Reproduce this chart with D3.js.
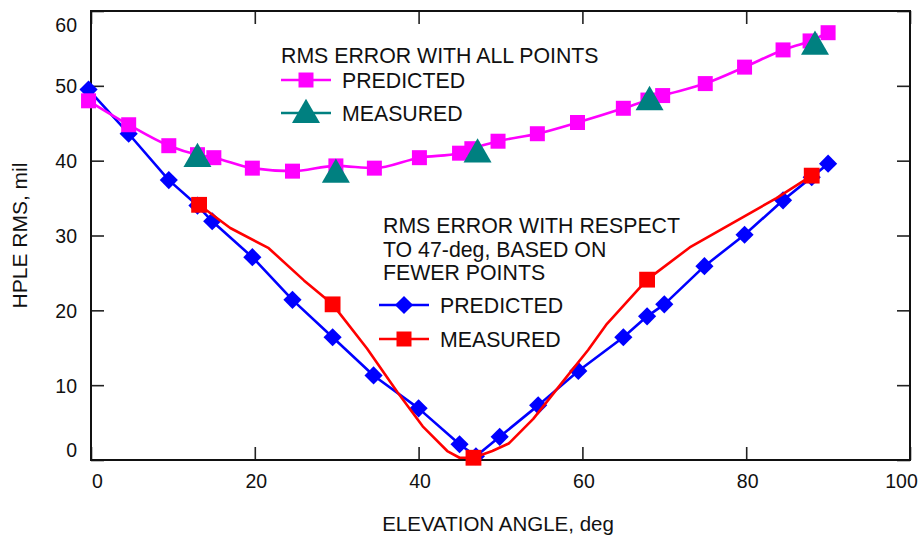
<!DOCTYPE html>
<html>
<head>
<meta charset="utf-8">
<script src="https://cdn.jsdelivr.net/npm/d3@7"></script>
<style>
  body { margin: 0; background: #fff; }
  svg text { font-family: Arial, "Liberation Sans", Helvetica, sans-serif; fill: #111; }
</style>
</head>
<body>
<svg id="chart" width="922" height="538"></svg>
<script>
// tick values
var xTicks = [0, 20, 40, 60, 80, 100];
var yTicks = [0, 10, 20, 30, 40, 50, 60];

// RMS error with all points
var allPredX = [-0.3, 4.6, 9.5, 13, 15, 19.7, 24.6, 29.9, 34.6, 40.1, 45, 46.5, 49.7, 54.5, 59.4, 65, 68, 69.8, 75, 79.8, 84.5, 87.8, 90];
var allPredY = [48, 44.8, 42, 40.8, 40.4, 39, 38.6, 39.3, 39, 40.4, 41, 41.6, 42.6, 43.6, 45.1, 47, 48.1, 48.7, 50.3, 52.5, 54.8, 56, 57.1];
var allMeasX = [13, 29.9, 47.2, 68.2, 88.4];
var allMeasY = [40.5, 38.4, 41.1, 48.1, 55.5];

// RMS error with respect to 47-deg
var refPredX = [-0.3, 4.6, 9.5, 13, 14.8, 19.7, 24.6, 29.5, 34.5, 40, 45, 47, 49.9, 54.6, 59.5, 65, 67.9, 70, 74.9, 79.8, 84.5, 88, 90];
var refPredY = [49.5, 43.6, 37.4, 34, 31.9, 27.1, 21.4, 16.4, 11.3, 6.9, 2.1, 0.5, 3.1, 7.3, 11.9, 16.4, 19.2, 20.8, 25.9, 30.1, 34.7, 37.8, 39.6];
var refMeasX = [13.2, 29.5, 46.7, 67.9, 88];
var refMeasY = [34.1, 20.8, 0.3, 24.1, 38];
// measured curve (drawn without markers between the measured points)
var refCurveX = [13.2, 17, 21.7, 26, 29.5, 33.7, 37.4, 40.5, 43.5, 45, 46.7, 49, 51, 54, 58, 60.7, 63, 67.9, 73.1, 83.7, 88];
var refCurveY = [34.1, 31, 28.3, 24, 20.8, 14.9, 9.1, 4.5, 1.2, 0.3, 0.3, 1.2, 2.2, 5.5, 11, 14.7, 18.2, 24.1, 28.4, 35, 38];

var MAGENTA = "#ff00ff", TEAL = "#008080", BLUE = "#0000ff", RED = "#ff0000";

var svg = d3.select("#chart"),
    margin = {top: 11, right: 12, bottom: 78, left: 91},
    width = +svg.attr("width") - margin.left - margin.right,
    height = +svg.attr("height") - margin.top - margin.bottom,
    g = svg.append("g").attr("transform", "translate(" + margin.left + "," + margin.top + ")");

var x = d3.scaleLinear().domain([0, 100]).range([0, width]);
var y = d3.scaleLinear().domain([0, 60]).range([height, 0]);

function zip(xs, ys) { return xs.map(function(v, i) { return [v, ys[i]]; }); }

// axes with inward ticks
var xAx = g.append("g").attr("transform", "translate(0," + height + ")")
  .call(d3.axisBottom(x).tickValues(xTicks).tickSize(-13).tickPadding(14));
var yAx = g.append("g")
  .call(d3.axisLeft(y).tickValues(yTicks).tickSize(-13).tickPadding(14));
g.append("g").call(d3.axisTop(x).tickValues(xTicks).tickSize(-13).tickFormat(""));
g.append("g").attr("transform", "translate(" + width + ",0)")
  .call(d3.axisRight(y).tickValues(yTicks).tickSize(-13).tickFormat(""));

g.selectAll(".domain").remove();
g.selectAll(".tick line").attr("stroke", "#222").attr("stroke-width", 1.6);
xAx.selectAll("text").attr("font-size", 19.5).attr("fill", "#111")
  .attr("dx", function(d) { return d === 0 ? 6 : (d === 100 ? -9 : 1); });
yAx.selectAll("text").attr("font-size", 19.5).attr("fill", "#111")
  .attr("dy", function(d) { return d === 60 ? "1.05em" : (d === 0 ? "-0.2em" : "0.36em"); });

g.append("rect").attr("width", width).attr("height", height)
  .attr("fill", "none").attr("stroke", "#111").attr("stroke-width", 2);

// axis titles
svg.append("text").attr("x", 498).attr("y", 531)
  .attr("text-anchor", "middle").attr("font-size", 20.5).text("ELEVATION ANGLE, deg");
svg.append("text").attr("transform", "translate(27," + (margin.top + height / 2) + ") rotate(-90)")
  .attr("text-anchor", "middle").attr("font-size", 21).text("HPLE RMS, mil");

var line = d3.line().x(function(d) { return x(d[0]); }).y(function(d) { return y(d[1]); });
var smooth = d3.line().curve(d3.curveMonotoneX).x(function(d) { return x(d[0]); }).y(function(d) { return y(d[1]); });

var sq = d3.symbol().type(d3.symbolSquare).size(225);
var rsq = d3.symbol().type(d3.symbolSquare).size(250);
var dia = d3.symbol().type(d3.symbolSquare).size(165);
var tri = d3.symbol().type(d3.symbolTriangle).size(340);

function at(d, dy) { return "translate(" + x(d[0]) + "," + (y(d[1]) + (dy || 0)) + ")"; }

// respect-to-47 predicted (blue)
g.append("path").datum(zip(refPredX, refPredY)).attr("d", line)
  .attr("fill", "none").attr("stroke", BLUE).attr("stroke-width", 2.6).attr("stroke-linejoin", "round");
g.selectAll(".dia").data(zip(refPredX, refPredY)).enter().append("path")
  .attr("transform", function(d) { return at(d) + " rotate(45)"; })
  .attr("d", dia).attr("fill", BLUE);

// respect-to-47 measured (red)
g.append("path").datum(zip(refCurveX, refCurveY)).attr("d", line)
  .attr("fill", "none").attr("stroke", RED).attr("stroke-width", 2.6).attr("stroke-linejoin", "round");
g.selectAll(".rsq").data(zip(refMeasX, refMeasY)).enter().append("path")
  .attr("transform", function(d) { return at(d); })
  .attr("d", rsq).attr("fill", RED);

// all points predicted (magenta)
g.append("path").datum(zip(allPredX, allPredY)).attr("d", smooth)
  .attr("fill", "none").attr("stroke", MAGENTA).attr("stroke-width", 2.6);
g.selectAll(".msq").data(zip(allPredX, allPredY)).enter().append("path")
  .attr("transform", function(d) { return at(d); })
  .attr("d", sq).attr("fill", MAGENTA);

// all points measured (teal triangles)
g.selectAll(".tri").data(zip(allMeasX, allMeasY)).enter().append("path")
  .attr("transform", function(d) { return at(d, 2); })
  .attr("d", tri).attr("fill", TEAL);

// legends
function legendItem(lx, ly, color, shape, label, rot) {
  svg.append("line").attr("x1", lx).attr("x2", lx + 50).attr("y1", ly).attr("y2", ly)
    .attr("stroke", color).attr("stroke-width", 2.6);
  svg.append("path").attr("transform", "translate(" + (lx + 25) + "," + (ly + (shape === tri ? 2 : 0)) + ")" + (rot ? " rotate(45)" : ""))
    .attr("d", shape).attr("fill", color);
  svg.append("text").attr("x", lx + 61).attr("y", ly + 7.5).attr("font-size", 21.3).text(label);
}

svg.append("text").attr("x", 281).attr("y", 63).attr("font-size", 21.3).text("RMS ERROR WITH ALL POINTS");
legendItem(281, 80, MAGENTA, sq, "PREDICTED");
legendItem(281, 113, TEAL, tri, "MEASURED");

var t2 = svg.append("text").attr("x", 383).attr("y", 233).attr("font-size", 21.3);
["RMS ERROR WITH RESPECT", "TO 47-deg, BASED ON", "FEWER POINTS"].forEach(function(s, i) {
  t2.append("tspan").attr("x", 383).attr("dy", i === 0 ? 0 : 23.5).text(s);
});
legendItem(379, 305, BLUE, dia, "PREDICTED", true);
legendItem(379, 339, RED, sq, "MEASURED");
</script>
</body>
</html>
